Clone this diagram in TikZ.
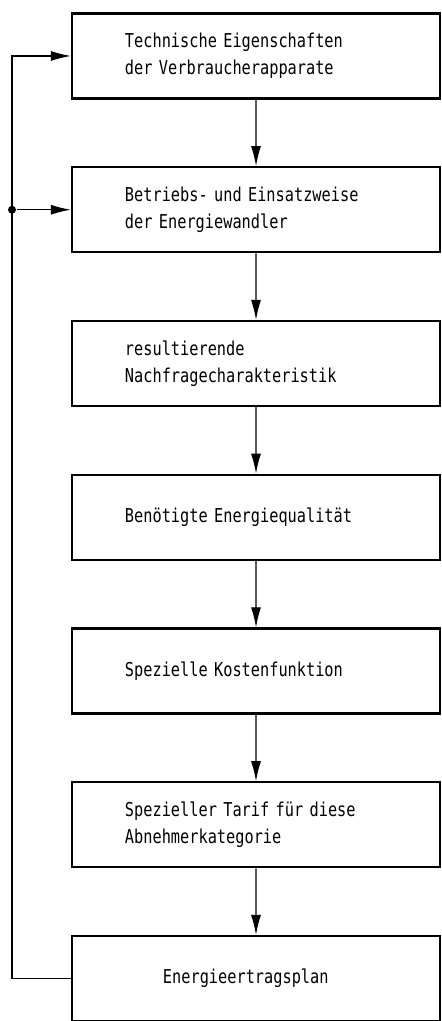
\documentclass[tikz,border=0pt]{standalone}
\usepackage{fontspec}
\newfontfamily\plotterschrift[FakeStretch=0.8]{DejaVu Sans Mono}
\usetikzlibrary{arrows.meta,positioning}
\tikzset{
        % Kaesten der Kette
        stufe/.style={rectangle, draw=black, line width=2pt, minimum width=11.04cm, minimum height=2.55cm,
                text width=7.86cm, align=left, inner sep=0pt, font=\plotterschrift\fontsize{16.3}{23}\selectfont},
        % Rueckfuehrung
        rueck/.style={line width=1pt},
        % Verzweigungspunkt
        knoten/.style={circle, fill=black, inner sep=0pt, minimum size=0.24cm}
}

\begin{document}
\begin{tikzpicture}[
            ->,
            >={Latex[length=0.6cm,width=0.3cm]},
            line width=1pt,
            x=0.03cm, y=0.03cm,
            level distance=4.6125cm
        ]
            \useasboundingbox (0,0) rectangle (441,1021);
            \node[stufe] (e1) at (256,965) {Technische Eigenschaften\\der Verbraucherapparate}
                child { node[stufe] (e2) {Betriebs- und Einsatzweise\\der Energiewandler}
                    child { node[stufe] (e3) {resultierende\\Nachfragecharakteristik}
                        child { node[stufe] (e4) {Benötigte Energiequalität}
                            child { node[stufe] (e5) {Spezielle Kostenfunktion}
                                child { node[stufe] (e6) {Spezieller Tarif für diese\\Abnehmerkategorie}
                                    child { node[stufe] (e7) {\hspace*{1.14cm}Energieertragsplan} }
                                }
                            }
                        }
                    }
                }
            ;
            % Rueckkopplung links
            \coordinate (links) at (12,0);
            \draw[rueck] (e7.west) -- (e7.west -| links) -- (e1.west -| links) -- (e1.west);
            \node[knoten] (punkt) at (e2.west -| links) {};
            \draw[rueck] (punkt) -- (e2.west);
        \end{tikzpicture}
\end{document}
